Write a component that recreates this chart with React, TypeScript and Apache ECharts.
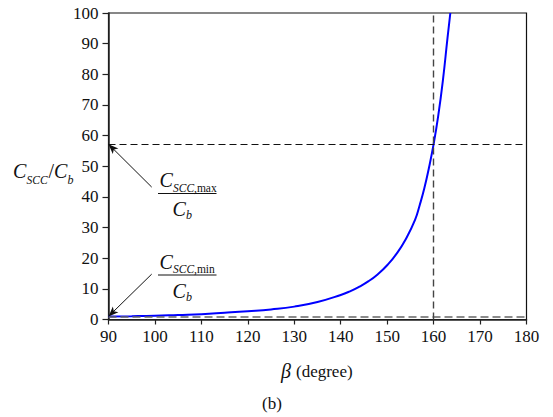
import React, { useEffect, useRef } from "react";
import * as echarts from "echarts";

const betaValues = [90, 95, 100, 105, 110, 115, 120, 125, 130, 135, 140, 142, 144, 146, 148, 150, 152, 154, 156, 157, 158, 159, 160, 161, 162, 163, 163.6];
const ratioValues = [1.0, 1.1, 1.25, 1.5, 1.75, 2.2, 2.7, 3.3, 4.2, 5.7, 8.0, 9.2, 10.7, 12.5, 14.8, 17.7, 21.4, 26.2, 32.5, 37.3, 42.8, 49.5, 57.2, 66.5, 78, 92, 100];
const xTicks = [90, 100, 110, 120, 130, 140, 150, 160, 170, 180];
const yTicks = [0, 10, 20, 30, 40, 50, 60, 70, 80, 90, 100];
const ratioMax = 57.2;
const ratioMin = 1.0;
const betaCritical = 160;
const maxArrowStart = [99.3, 43.2];
const minArrowStart = [99.3, 14.8];

const SERIF = "Liberation Serif";

export default function App() {
  const ref = useRef<HTMLDivElement>(null);
  useEffect(() => {
    if (!ref.current) return;
    document.body.style.margin = "0";
    const chart = echarts.init(ref.current, undefined, { renderer: "svg" });
    const t = (x: number, y: number, text: string, size: number, italic: boolean, align: string = "left") => ({
      type: "text",
      x,
      y,
      style: {
        text,
        fontFamily: SERIF,
        fontSize: size,
        fontStyle: italic ? "italic" : "normal",
        fill: "#111",
        textAlign: align,
        textVerticalAlign: "middle",
      },
    });
    const fraction = (dy: number, sub: string) => [
      t(159.5, 180 + dy, "C", 20, true),
      t(173, 187.5 + dy, "SCC", 11.5, true),
      t(194, 187.5 + dy, sub, 11.5, false),
      {
        type: "line",
        shape: { x1: 158, y1: 193.5 + dy, x2: 216.5, y2: 193.5 + dy },
        style: { stroke: "#111", lineWidth: 1 },
      },
      t(172.5, 209 + dy, "C", 20, true),
      t(186, 215 + dy, "b", 12, true),
    ];
    chart.setOption({
      animation: false,
      grid: {
        left: 108.5,
        right: 26.5,
        top: 13,
        bottom: 97.5,
        show: true,
        borderColor: "#111",
        borderWidth: 1.2,
      },
      xAxis: {
        type: "value",
        min: 90,
        max: 180,
        interval: 10,
        axisLine: { show: true, lineStyle: { color: "#222", width: 1.5 } },
        axisTick: { show: true, inside: false, length: 5, lineStyle: { color: "#222", width: 1.2 } },
        axisLabel: {
          margin: 8,
          fontFamily: SERIF,
          fontSize: 17,
          color: "#111",
          formatter: (v: number) => (xTicks.includes(v) ? String(v) : ""),
        },
        splitLine: { show: false },
      },
      yAxis: {
        type: "value",
        min: 0,
        max: 100,
        interval: 10,
        axisLine: { show: true, lineStyle: { color: "#222", width: 1.5 } },
        axisTick: { show: true, inside: false, length: 6, lineStyle: { color: "#222", width: 1.2 } },
        axisLabel: {
          margin: 10,
          fontFamily: SERIF,
          fontSize: 17,
          color: "#111",
          formatter: (v: number) => (yTicks.includes(v) ? String(v) : ""),
        },
        splitLine: { show: false },
      },
      series: [
        {
          type: "line",
          data: betaValues.map((b, i) => [b, ratioValues[i]]),
          smooth: 0.5,
          showSymbol: false,
          lineStyle: { color: "#0000ff", width: 2 },
          clip: true,
          z: 3,
          silent: true,
          markLine: {
            silent: true,
            symbol: ["none", "none"],
            label: { show: false },
            animation: false,
            data: [
              [
                { coord: [90, ratioMax], lineStyle: { color: "#111", type: [7, 4], width: 1.2 } },
                { coord: [180, ratioMax] },
              ],
              [
                { coord: [90, ratioMin], lineStyle: { color: "#666", type: [8, 4], width: 1.6 } },
                { coord: [180, ratioMin] },
              ],
              [
                { coord: [betaCritical, 0], lineStyle: { color: "#444", type: [7, 4], width: 1.4 } },
                { coord: [betaCritical, 100] },
              ],
              [
                { coord: maxArrowStart, symbol: "none", lineStyle: { color: "#111", type: "solid", width: 1 } },
                { coord: [90, ratioMax], symbol: "arrow", symbolSize: [6, 10] },
              ],
              [
                { coord: minArrowStart, symbol: "none", lineStyle: { color: "#111", type: "solid", width: 1 } },
                { coord: [90, ratioMin], symbol: "arrow", symbolSize: [6, 10] },
              ],
            ],
          },
        },
      ],
      graphic: [
        t(13, 170.5, "C", 20, true),
        t(26.5, 179.5, "SCC", 11.5, true),
        t(48.5, 170.5, "/", 20, false),
        t(54, 170.5, "C", 20, true),
        t(67.5, 180, "b", 12, true),
        ...fraction(0, ",max"),
        ...fraction(81.5, ",min"),
        t(281, 371, "β", 20, true),
        t(296, 371, "(degree)", 17, false),
        t(272, 403, "(b)", 17, false, "center"),
      ],
    });
    return () => chart.dispose();
  }, []);
  return <div ref={ref} style={{ width: 553, height: 417 }} />;
}
